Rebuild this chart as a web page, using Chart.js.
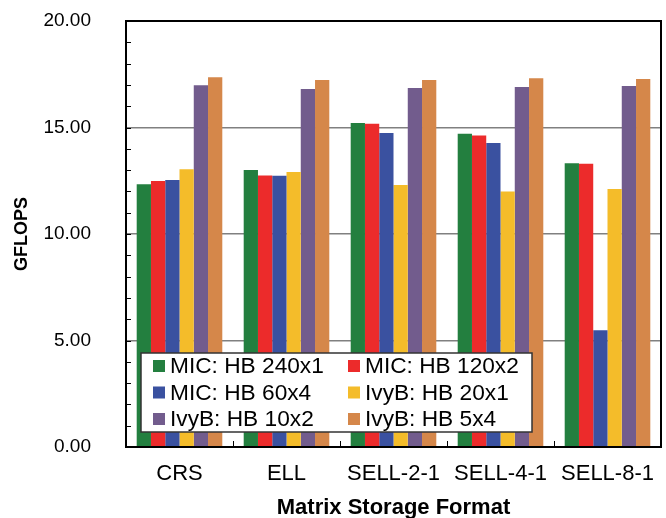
<!DOCTYPE html>
<html lang="en">
<head>
  <meta charset="UTF-8" />
  <title>GFLOPS by Matrix Storage Format</title>
  <script src="https://cdn.jsdelivr.net/npm/chart.js"></script>
  <style>
    html, body { margin: 0; padding: 0; background: #fff; }
    #wrap { width: 666px; height: 518px; }
  </style>
</head>
<body>
  <div id="wrap"><canvas id="gflopsChart" width="666" height="518"></canvas></div>

  <script>
    // categories on the x axis
    const categories = ['CRS', 'ELL', 'SELL-2-1', 'SELL-4-1', 'SELL-8-1'];

    // GFLOPS per configuration
    const micHb240x1 = [12.33, 13.00, 15.21, 14.71, 13.32];
    const micHb120x2 = [12.49, 12.75, 15.18, 14.63, 13.30];
    const micHb60x4  = [12.54, 12.74, 14.74, 14.27, 5.48];
    const ivyHb20x1  = [13.04, 12.91, 12.30, 11.99, 12.11];
    const ivyHb10x2  = [16.98, 16.81, 16.85, 16.90, 16.95];
    const ivyHb5x4   = [17.36, 17.23, 17.23, 17.31, 17.28];

    const seriesNames = ['MIC: HB 240x1', 'MIC: HB 120x2', 'MIC: HB 60x4', 'IvyB: HB 20x1', 'IvyB: HB 10x2', 'IvyB: HB 5x4'];
    const seriesData = [micHb240x1, micHb120x2, micHb60x4, ivyHb20x1, ivyHb10x2, ivyHb5x4];
    const seriesColors = ['#237f3f', '#ec2b2b', '#3a51a0', '#f4bc2a', '#725c8d', '#d5874a'];

    const FONT = "'Liberation Sans', Arial, sans-serif";

    // legend box drawn inside the plot, two columns
    const boxLegend = {
      id: 'boxLegend',
      afterDatasetsDraw(chart) {
        const ctx = chart.ctx;
        const x0 = 141, y0 = 353, w = 391, h = 79;
        ctx.save();
        ctx.fillStyle = '#fff';
        ctx.fillRect(x0, y0, w, h);
        ctx.strokeStyle = '#333';
        ctx.lineWidth = 1.5;
        ctx.strokeRect(x0, y0, w, h);
        ctx.font = '22.7px ' + FONT;
        ctx.textBaseline = 'middle';
        ctx.fillStyle = '#000';
        chart.data.datasets.forEach((ds, i) => {
          const col = i % 2, row = Math.floor(i / 2);
          const bx = col === 0 ? 153 : 348;
          const cy = 366 + row * 26.5;
          ctx.fillStyle = ds.backgroundColor;
          ctx.fillRect(bx, cy - 6, 12, 12);
          ctx.fillStyle = '#000';
          ctx.fillText(ds.label, bx + 17, cy + 1);
        });
        ctx.restore();
      }
    };

    // frame, minor y ticks and category separators
    const frameTicks = {
      id: 'frameTicks',
      afterDraw(chart) {
        const { ctx, chartArea: a, scales } = chart;
        ctx.save();
        ctx.strokeStyle = '#000';
        ctx.lineWidth = 1;
        for (let v = 1; v < 20; v++) {
          const y = Math.round(scales.y.getPixelForValue(v)) + 0.5;
          ctx.beginPath();
          ctx.moveTo(a.left, y);
          ctx.lineTo(a.left + 5, y);
          ctx.stroke();
        }
        const step = (a.right - a.left) / categories.length;
        for (let i = 1; i < categories.length; i++) {
          const x = Math.round(a.left + i * step) + 0.5;
          ctx.beginPath();
          ctx.moveTo(x, a.bottom);
          ctx.lineTo(x, a.bottom - 6);
          ctx.stroke();
        }
        ctx.lineWidth = 2;
        ctx.strokeRect(a.left, a.top, a.right - a.left, a.bottom - a.top);
        ctx.restore();
      }
    };

    const ctx = document.getElementById('gflopsChart').getContext('2d');
    new Chart(ctx, {
      type: 'bar',
      data: {
        labels: categories,
        datasets: seriesData.map((d, i) => ({
          label: seriesNames[i],
          data: d,
          backgroundColor: seriesColors[i],
          borderWidth: 0,
          barPercentage: 1,
          categoryPercentage: 0.8
        }))
      },
      options: {
        responsive: false,
        animation: false,
        layout: { padding: { top: 21, right: 5, left: 0, bottom: 0 } },
        plugins: { legend: { display: false }, tooltip: { enabled: false } },
        scales: {
          x: {
            grid: { display: false, drawTicks: false },
            border: { display: true, color: '#000', width: 2 },
            ticks: { color: '#000', font: { family: FONT, size: 22 }, padding: 14, maxRotation: 0 },
            title: {
              display: true, text: 'Matrix Storage Format', color: '#000',
              font: { family: FONT, size: 22, weight: 'bold', lineHeight: 0.9 },
              padding: { top: 0, bottom: 0 }
            },
            afterFit(scale) {
              scale.height = 71;
              scale.paddingLeft = 0;
              scale.paddingRight = 0;
            }
          },
          y: {
            min: 0,
            max: 20,
            ticks: {
              stepSize: 5, color: '#000', padding: 35,
              font: { family: FONT, size: 19 },
              callback: v => Number(v).toFixed(2)
            },
            grid: {
              drawTicks: false,
              color: c => (c.tick && c.tick.value > 0 && c.tick.value < 20) ? '#808080' : 'rgba(0,0,0,0)',
              lineWidth: 1.5
            },
            border: { display: true, color: '#000', width: 2 },
            title: {
              display: true, text: 'GFLOPS', color: '#000',
              font: { family: FONT, size: 18, weight: 'bold' },
              padding: { top: 11, bottom: 0 }
            },
            afterFit(scale) {
              scale.width = 126;
              scale.paddingTop = 0;
              scale.paddingBottom = 0;
            }
          }
        }
      },
      plugins: [boxLegend, frameTicks]
    });
  </script>
</body>
</html>
